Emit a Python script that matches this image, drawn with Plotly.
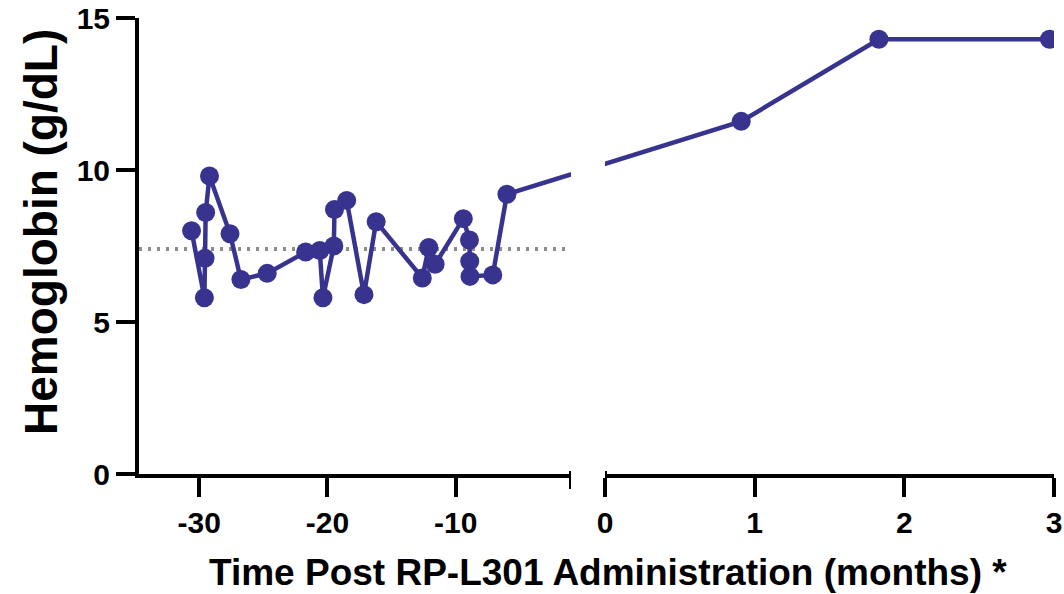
import plotly.graph_objects as go

# ---------------- data ----------------
pre_months = [-30.6, -29.6, -29.55, -29.5, -29.2, -27.6, -26.75, -24.7, -21.7, -20.6,
              -20.35, -19.5, -19.45, -18.5, -17.15, -16.2, -12.6, -12.1, -11.6, -9.4,
              -8.92, -8.9, -8.88, -7.1, -6.0]
pre_hgb = [8.0, 5.8, 7.1, 8.6, 9.8, 7.9, 6.4, 6.6, 7.3, 7.35,
           5.8, 7.5, 8.7, 9.0, 5.9, 8.3, 6.45, 7.45, 6.9, 8.4,
           7.7, 7.0, 6.5, 6.55, 9.2]
post_months = [0.91, 1.83, 2.97]
post_hgb = [11.6, 14.3, 14.3]
baseline_hgb = 7.4

left_range = [-34.7, -1]
right_range = [0, 3]
y_range = [0, 15]
left_tickvals = [-30, -20, -10]
left_ticktext = ["-30", "-20", "-10"]
right_tickvals = [0, 1, 2, 3]
right_ticktext = ["0", "1", "2", "3"]
y_tickvals = [0, 5, 10, 15]

# ---------------- layout geometry ----------------
W, H = 1064, 594
ML, MR, MT, MB = 139, 10, 18, 120
plot_w = W - ML - MR
plot_h = H - MT - MB
left_px = (139, 571)
right_px = (605, 1054)
domL = [(left_px[0] - ML) / plot_w, (left_px[1] - ML) / plot_w]
domR = [(right_px[0] - ML) / plot_w, (right_px[1] - ML) / plot_w]
kL = (left_px[1] - left_px[0]) / (left_range[1] - left_range[0])
kR = (right_px[1] - right_px[0]) / (right_range[1] - right_range[0])
gap_px = right_px[0] - left_px[1]

# virtual continuation points so the connecting line crosses the axis break
post_in_left = left_range[1] + (gap_px + (post_months[0] - right_range[0]) * kR) / kL
pre_in_right = right_range[0] - (gap_px + (left_range[1] - pre_months[-1]) * kL) / kR

COLOR = "#38338f"
FONT = "Liberation Sans, Arial, Helvetica, sans-serif"
TICKFONT = dict(family=FONT, size=30, color="black", weight="bold")

fig = go.Figure()
fig.add_trace(go.Scatter(
    x=left_range, y=[baseline_hgb, baseline_hgb], mode="lines",
    line=dict(color="#8c8c8c", width=4, dash="3px,6px"),
    xaxis="x", yaxis="y", showlegend=False, hoverinfo="skip"))
fig.add_trace(go.Scatter(
    x=pre_months + [post_in_left], y=pre_hgb + [post_hgb[0]],
    mode="lines+markers", line=dict(color=COLOR, width=4.5),
    marker=dict(color=COLOR, size=19), xaxis="x", yaxis="y", showlegend=False))
fig.add_trace(go.Scatter(
    x=[pre_in_right] + post_months, y=[pre_hgb[-1]] + post_hgb,
    mode="lines+markers", line=dict(color=COLOR, width=4.5),
    marker=dict(color=COLOR, size=19), xaxis="x2", yaxis="y", showlegend=False))

axis_common = dict(showline=True, linecolor="black", linewidth=4, ticks="outside",
                   ticklen=19, tickwidth=4, tickcolor="black", showgrid=False,
                   zeroline=False, automargin=False, tickfont=TICKFONT)

fig.update_layout(
    width=W, height=H, margin=dict(l=ML, r=MR, t=MT, b=MB, autoexpand=False),
    paper_bgcolor="white", plot_bgcolor="white",
    font=dict(family=FONT, color="black"),
    xaxis=dict(domain=domL, range=left_range, tickmode="array", tickvals=left_tickvals,
               ticktext=left_ticktext, anchor="y", **axis_common),
    xaxis2=dict(domain=domR, range=right_range, tickmode="array", tickvals=right_tickvals,
                ticktext=right_ticktext, anchor="y", **axis_common),
    yaxis=dict(domain=[0, 1], range=y_range, tickmode="array", tickvals=y_tickvals,
               anchor="x", **axis_common),
)

# break caps
cap_up, cap_down = 3 / plot_h, -15 / plot_h
for xref, xv in (("x", left_range[1]), ("x2", right_range[0])):
    fig.add_shape(type="line", xref=xref, yref="paper", x0=xv, x1=xv, y0=cap_down, y1=cap_up,
                  line=dict(color="black", width=4))

# axis titles
fig.add_annotation(
    text="Time Post RP-L301 Administration (months) *",
    xref="paper", yref="paper", x=(608 - ML) / plot_w, y=-(572 - (H - MB)) / plot_h,
    xanchor="center", yanchor="middle", showarrow=False,
    font=dict(family=FONT, size=37, color="black", weight="bold"))
fig.add_annotation(
    text="Hemoglobin (g/dL)", textangle=-90,
    xref="paper", yref="paper", x=(41 - ML) / plot_w, y=((H - MB) - 232) / plot_h,
    xanchor="center", yanchor="middle", showarrow=False,
    font=dict(family=FONT, size=46, color="black", weight="bold"))

fig.write_html("out.html", config={"displayModeBar": False},
               post_script="document.body.style.margin='0';")
